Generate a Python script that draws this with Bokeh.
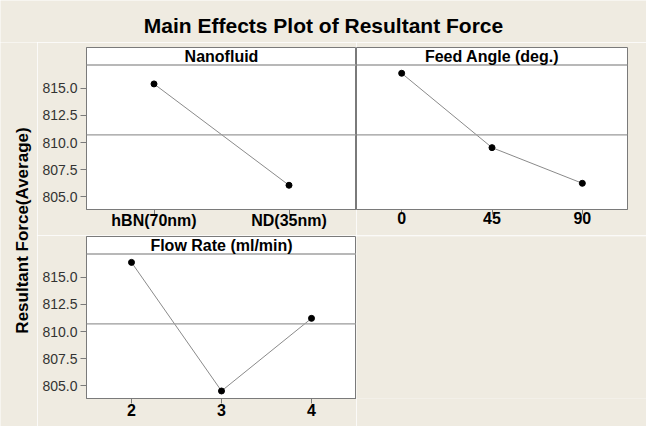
import math
from bokeh.plotting import figure
from bokeh.layouts import row, column
from bokeh.models import Range1d, FixedTicker, Span, Label, PrintfTickFormatter
from bokeh.embed import file_html
from bokeh.resources import INLINE

# ---- data ----
title_text = "Main Effects Plot of Resultant Force"
y_label_text = "Resultant Force(Average)"
panel_titles = ["Nanofluid", "Feed Angle (deg.)", "Flow Rate (ml/min)"]

nano_names = ["hBN(70nm)", "ND(35nm)"]
nano_means = [815.40, 806.08]
feed_names = ["0", "45", "90"]
feed_means = [816.38, 809.54, 806.26]
flow_names = ["2", "3", "4"]
flow_means = [816.37, 804.54, 811.22]
grand_mean = 810.72
y_ticks = [805.0, 807.5, 810.0, 812.5, 815.0]

# ---- style ----
BEIGE = "#efebe1"
FONT = "Liberation Sans"
OUTLINE = "#7a7a7a"
Y_LO, Y_STRIP, Y_HI = 803.85, 817.15, 818.75


def panel(names, means, title, width, height, left, right, top, bottom,
          show_y, standoff):
    n = len(names)
    xs = list(range(n))
    p = figure(width=width, height=height,
               x_range=Range1d(-0.5, n - 0.5), y_range=Range1d(Y_LO, Y_HI),
               output_backend="svg", toolbar_location=None,
               min_border_left=left, min_border_right=right,
               min_border_top=top, min_border_bottom=bottom,
               y_axis_location="left" if show_y else None)
    p.background_fill_color = "white"
    p.border_fill_color = BEIGE
    p.outline_line_color = OUTLINE
    p.outline_line_width = 1
    p.grid.visible = False

    xa = p.xaxis[0]
    xa.ticker = FixedTicker(ticks=xs)
    xa.major_label_overrides = {i: nm for i, nm in enumerate(names)}
    xa.major_label_text_font = FONT
    xa.major_label_text_font_style = "bold"
    xa.major_label_text_font_size = "16px"
    xa.major_label_text_color = "black"
    xa.major_label_standoff = standoff
    xa.major_tick_out = 5
    xa.major_tick_in = 0
    xa.minor_tick_out = 0
    xa.minor_tick_in = 0
    xa.axis_line_color = OUTLINE
    xa.major_tick_line_color = OUTLINE

    if show_y:
        ya = p.yaxis[0]
        ya.ticker = FixedTicker(ticks=y_ticks)
        ya.formatter = PrintfTickFormatter(format="%.1f")
        ya.major_label_text_font = FONT
        ya.major_label_text_font_size = "14px"
        ya.major_label_text_color = "#333333"
        ya.major_label_standoff = 3
        ya.major_tick_out = 6
        ya.major_tick_in = 0
        ya.minor_tick_out = 0
        ya.minor_tick_in = 0
        ya.axis_line_color = OUTLINE
        ya.major_tick_line_color = OUTLINE

    p.add_layout(Span(location=Y_STRIP, dimension="width",
                      line_color="#a0a0a0", line_width=1.5))
    p.add_layout(Span(location=grand_mean, dimension="width",
                      line_color="#9a9a9a", line_width=1.2))
    p.line(xs, means, line_color="#8a8a8a", line_width=1)
    p.scatter(xs, means, size=6, color="black")
    p.add_layout(Label(x=(n - 1) / 2, y=(Y_STRIP + Y_HI) / 2, text=title,
                       text_align="center", text_baseline="middle",
                       text_font=FONT, text_font_style="bold",
                       text_font_size="16px", text_color="black"))
    return p


def blank(width, height):
    f = figure(width=width, height=height, x_range=Range1d(0, width),
               y_range=Range1d(0, height), output_backend="svg",
               toolbar_location=None, min_border=0,
               x_axis_location=None, y_axis_location=None)
    f.background_fill_color = BEIGE
    f.border_fill_color = BEIGE
    f.outline_line_color = None
    f.grid.visible = False
    return f


title_fig = blank(646, 42)
title_fig.add_layout(Label(x=323, y=17, x_units="screen", y_units="screen",
                           text=title_text, text_align="center",
                           text_baseline="middle", text_font=FONT,
                           text_font_style="bold", text_font_size="21px",
                           text_color="black"))

ylab_fig = blank(37, 384)
ylab_fig.add_layout(Label(x=22, y=196, x_units="screen", y_units="screen",
                          text=y_label_text, angle=math.pi / 2,
                          text_align="center", text_baseline="middle",
                          text_font=FONT, text_font_style="bold",
                          text_font_size="17px", text_color="black"))

p1 = panel(nano_names, nano_means, panel_titles[0], 319, 193, 49, 0, 5, 26, True, -3)
p2 = panel(feed_names, feed_means, panel_titles[1], 290, 193, 0, 19, 5, 26, False, -3)
p3 = panel(flow_names, flow_means, panel_titles[2], 319, 191, 49, 0, 1, 28, True, 0)
sp = blank(290, 191)

layout = column(title_fig,
                row(ylab_fig, column(row(p1, p2), row(p3, sp))))

open("out.html", "w").write(file_html(layout, INLINE))
